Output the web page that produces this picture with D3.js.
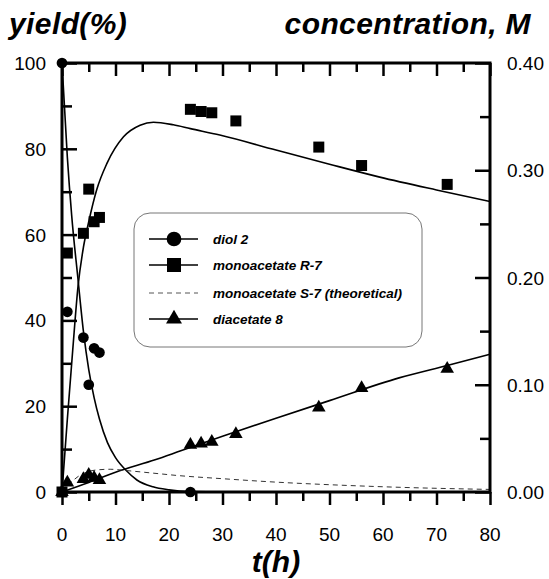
<!DOCTYPE html>
<html>

<head>
  <meta charset="utf-8">
  <title>yield vs time</title>
  <style>
  body{
    margin: 0;
    background: #fff;
  }
  text{
    font-family: "Liberation Sans", Arial, sans-serif;
  }
  </style>
</head>

<body>
  <svg width="549" height="579"></svg>
  <script src="https://d3js.org/d3.v7.min.js"></script>
  <script>
    // measured points [t(h), yield %]
    var diolPts = [[0, 100], [1, 42], [4, 36], [5, 25], [6, 33.5], [7, 32.5], [24, 0]];
    var monoRPts = [[0, 0], [1, 55.7], [4, 60.3], [5, 70.6], [6, 63], [7, 64], [24, 89.2], [26, 88.7], [28, 88.4], [32.5, 86.5], [48, 80.4], [56, 76.1], [72, 71.7]];
    var diacPts = [[0, 0], [1, 2.2], [4, 3], [5, 4], [6, 3.3], [7, 2.8], [24, 11], [26, 11.3], [28, 11.7], [32.5, 13.5], [48, 19.7], [56, 24.2], [72, 28.7]];

    // fitted curves
    var diolCurve = [[0, 100], [1, 78], [1.8, 64.6], [3, 49.5], [4, 37.5], [5, 28.5], [6, 22], [7, 17], [8.5, 11.5], [10, 8], [12, 5], [14, 2.8], [17, 1.2], [20, 0.5], [24, 0.1], [30, 0], [80, 0]];
    var monoRCurve = [[0, 0], [1, 17], [2, 33], [3, 48], [4, 57], [5, 63], [6.5, 70.5], [8.4, 76.6], [11.5, 82.8], [14.6, 85.5], [17.1, 86.2], [20.8, 85.6], [24, 84.7], [29.5, 83.2], [40, 79.7], [50, 76.4], [59.4, 73.4], [70, 70.4], [80, 67.7]];
    var monoSCurve = [[0, 0], [1, 1.4], [2, 2.6], [3, 3.6], [5, 4.8], [7, 5.2], [9, 5.3], [12, 5], [17, 4.4], [22, 3.8], [30, 3.1], [40, 2.3], [50, 1.7], [63, 1.1], [80, 0.6]];
    var diacCurve = [[0, 0], [5, 2.2], [10, 4.6], [17.4, 7.5], [22.2, 9.6], [30, 13], [40, 17.2], [50, 21.3], [63, 26.6], [72, 29.5], [80, 32.1]];

    var xTicks = [0, 10, 20, 30, 40, 50, 60, 70, 80];
    var yTicks = [0, 20, 40, 60, 80, 100];
    var cTicks = [0, 0.1, 0.2, 0.3, 0.4];

    var legendItems = [
      { name: "diol 2", sym: "circle" },
      { name: "monoacetate R-7", sym: "square" },
      { name: "monoacetate S-7 (theoretical)", sym: "dash" },
      { name: "diacetate 8", sym: "triangle" }
    ];

    var pLeft = 62, pRight = 490, pTop = 63, pBottom = 492;
    var xScale = d3.scaleLinear().domain([0, 80]).range([pLeft, pRight]);
    var yScale = d3.scaleLinear().domain([0, 100]).range([pBottom, pTop]);
    var cScale = d3.scaleLinear().domain([0, 0.4]).range([pBottom, pTop]);

    var svg = d3.select("svg");

    // curves
    var line = d3.line()
      .x(d => xScale(d[0]))
      .y(d => yScale(d[1]))
      .curve(d3.curveMonotoneX);

    [diolCurve, monoRCurve, diacCurve].forEach(c => {
      svg.append("path")
        .attr("d", line(c))
        .attr("fill", "none")
        .attr("stroke", "#000")
        .attr("stroke-width", 1.6);
    });
    svg.append("path")
      .attr("d", line(monoSCurve))
      .attr("fill", "none")
      .attr("stroke", "#333")
      .attr("stroke-width", 1)
      .attr("stroke-dasharray", "5,4");

    // axes
    svg.append("g")
      .attr("transform", "translate(0," + pBottom + ")")
      .call(d3.axisBottom(xScale).tickValues(d3.range(0, 81, 5)).tickSize(13).tickFormat(""))
      .call(g => g.selectAll(".tick line").filter(d => d % 10 != 0).attr("y2", 9));
    svg.append("g")
      .attr("transform", "translate(0," + pTop + ")")
      .call(d3.axisBottom(xScale).tickValues(d3.range(0, 81, 5)).tickSize(13).tickFormat(""))
      .call(g => g.selectAll(".tick line").filter(d => d % 10 != 0).attr("y2", 9));
    svg.append("g")
      .attr("transform", "translate(" + pLeft + ",0)")
      .call(d3.axisRight(yScale).tickValues(d3.range(0, 101, 10)).tickSize(15).tickFormat(""))
      .call(g => g.selectAll(".tick line").filter(d => d % 20 != 0).attr("x2", 10));
    svg.append("g")
      .attr("transform", "translate(" + pRight + ",0)")
      .call(d3.axisLeft(cScale).tickValues(d3.range(0, 0.41, 0.05)).tickSize(15).tickFormat(""))
      .call(g => g.selectAll(".tick line").filter((d, i) => i % 2 == 1).attr("x2", -10));

    svg.selectAll(".domain").remove();
    svg.selectAll(".tick line").attr("stroke", "#000").attr("stroke-width", 2.5);
    svg.append("rect")
      .attr("x", pLeft).attr("y", pTop)
      .attr("width", pRight - pLeft).attr("height", pBottom - pTop)
      .attr("fill", "none").attr("stroke", "#000").attr("stroke-width", 3);

    // tick labels
    svg.selectAll(".xl").data(xTicks).enter().append("text")
      .attr("x", d => xScale(d)).attr("y", 541)
      .attr("text-anchor", "middle").attr("font-size", 19)
      .text(d => d);
    svg.selectAll(".yl").data(yTicks).enter().append("text")
      .attr("x", 46).attr("y", d => yScale(d) + 7)
      .attr("text-anchor", "end").attr("font-size", 19)
      .text(d => d);
    svg.selectAll(".cl").data(cTicks).enter().append("text")
      .attr("x", 507).attr("y", d => cScale(d) + 7)
      .attr("text-anchor", "start").attr("font-size", 19)
      .text(d => d3.format(".2f")(d));

    // titles
    svg.append("text").attr("x", 9).attr("y", 34)
      .attr("font-size", 30).attr("font-weight", "bold").attr("font-style", "italic")
      .attr("letter-spacing", 0.4)
      .text("yield(%)");
    svg.append("text").attr("x", 531).attr("y", 34)
      .attr("text-anchor", "end")
      .attr("font-size", 30).attr("font-weight", "bold").attr("font-style", "italic")
      .attr("letter-spacing", 0.4)
      .text("concentration, M");
    svg.append("text").attr("x", (pLeft + pRight) / 2).attr("y", 572)
      .attr("text-anchor", "middle")
      .attr("font-size", 30).attr("font-weight", "bold").attr("font-style", "italic")
      .text("t(h)");

    // markers
    function drawPts(pts, type, size) {
      svg.append("g").selectAll("path").data(pts).enter().append("path")
        .attr("transform", d => "translate(" + xScale(d[0]) + "," + yScale(d[1]) + ")")
        .attr("d", d3.symbol().type(type).size(size))
        .attr("fill", "#000");
    }
    drawPts(diolPts, d3.symbolCircle, 90);
    drawPts(monoRPts, d3.symbolSquare, 121);
    drawPts(diacPts, d3.symbolTriangle, 80);

    // legend
    var lg = svg.append("g");
    lg.append("rect")
      .attr("x", 134).attr("y", 213).attr("width", 288).attr("height", 134)
      .attr("rx", 16).attr("fill", "none")
      .attr("stroke", "#777").attr("stroke-width", 1);
    var rowY = [239, 265, 293, 319];
    var symMap = { circle: [d3.symbolCircle, 170], square: [d3.symbolSquare, 196], triangle: [d3.symbolTriangle, 110] };
    legendItems.forEach((it, i) => {
      var y = rowY[i];
      lg.append("line")
        .attr("x1", 149).attr("x2", 198).attr("y1", y).attr("y2", y)
        .attr("stroke", it.sym == "dash" ? "#555" : "#000")
        .attr("stroke-width", it.sym == "dash" ? 1 : 1.6)
        .attr("stroke-dasharray", it.sym == "dash" ? "5,4" : null);
      if (symMap[it.sym]) {
        lg.append("path")
          .attr("transform", "translate(174," + y + ")")
          .attr("d", d3.symbol().type(symMap[it.sym][0]).size(symMap[it.sym][1]))
          .attr("fill", "#000");
      }
      lg.append("text")
        .attr("x", 213).attr("y", y + 5)
        .attr("font-size", 13.5).attr("font-weight", "bold").attr("font-style", "italic")
        .text(it.name);
    });
  </script>

</body>

</html>
